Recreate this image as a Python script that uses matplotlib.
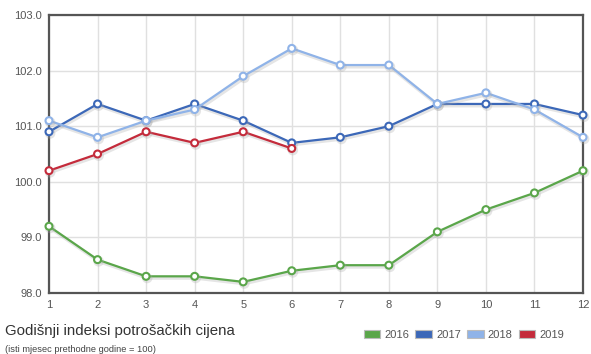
import matplotlib
matplotlib.use("Agg")
import matplotlib.pyplot as plt
from matplotlib.patches import Patch
import matplotlib.patheffects as pe

plt.rcParams["font.family"] = ["Liberation Sans", "DejaVu Sans"]

months = list(range(1, 13))
series_2016 = [99.2, 98.6, 98.3, 98.3, 98.2, 98.4, 98.5, 98.5, 99.1, 99.5, 99.8, 100.2]
series_2017 = [100.9, 101.4, 101.1, 101.4, 101.1, 100.7, 100.8, 101.0, 101.4, 101.4, 101.4, 101.2]
series_2018 = [101.1, 100.8, 101.1, 101.3, 101.9, 102.4, 102.1, 102.1, 101.4, 101.6, 101.3, 100.8]
series_2019 = [100.2, 100.5, 100.9, 100.7, 100.9, 100.6]
years = ["2016", "2017", "2018", "2019"]
colors = ["#5aa64a", "#3c68b8", "#8fb3e8", "#c42b3b"]
y_ticks = [98.0, 99.0, 100.0, 101.0, 102.0, 103.0]

fig = plt.figure(figsize=(5.91, 3.54), dpi=100)
ax = fig.add_axes([49 / 591, 61 / 354, 534 / 591, 278 / 354])

all_series = [series_2016, series_2017, series_2018, series_2019]
for vals, col in zip(all_series, colors):
    x = months[:len(vals)]
    ax.plot(x, vals, color=col, lw=1.6, marker="o", ms=5, mfc="white",
            mec=col, mew=1.5, zorder=3, clip_on=False,
            path_effects=[pe.SimpleLineShadow(offset=(0.8, -1.2), shadow_color="#aaaaaa", alpha=0.3, linewidth=2.6),
                          pe.Normal()])

ax.set_xlim(1, 12)
ax.set_ylim(98, 103)
ax.set_xticks(months)
ax.set_yticks(y_ticks)
ax.set_yticklabels([f"{v:.1f}" for v in y_ticks])
ax.grid(True, color="#e0e0e0", lw=1)
ax.set_axisbelow(True)
for s in ax.spines.values():
    s.set_color("#555555")
    s.set_linewidth(1.6)
ax.tick_params(axis="both", length=0, labelsize=8, labelcolor="#555555")
ax.tick_params(axis="x", pad=5)
ax.tick_params(axis="y", pad=5)

fig.text(5 / 591, 1 - 331 / 354, "Godišnji indeksi potrošačkih cijena", fontsize=10.8,
         color="#333333", va="center", ha="left")
fig.text(5 / 591, 1 - 349 / 354, "(isti mjesec prethodne godine = 100)", fontsize=6.7,
         color="#444444", va="center", ha="left")

handles = [Patch(facecolor=c, edgecolor="#bbbbbb", lw=0.8) for c in colors]
fig.legend(handles, years, loc="center right", bbox_to_anchor=(564 / 591, 1 - 335 / 354),
           ncol=4, frameon=False, fontsize=8, handlelength=1.5, handleheight=0.8,
           handletextpad=0.36, columnspacing=0.55, borderpad=0, borderaxespad=0,
           labelcolor="#555555")

fig.savefig("out.png", dpi=100)
